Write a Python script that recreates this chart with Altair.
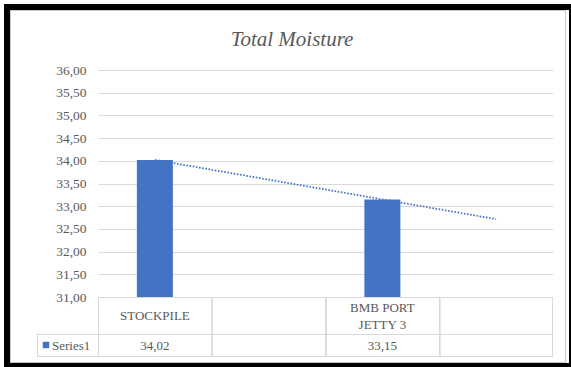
import altair as alt
import numpy as np
import pandas as pd

# ---- data ----
categories = ["STOCKPILE", "", "BMB PORT\nJETTY 3", ""]
values = [34.02, None, 33.15, None]
series_name = "Series1"
title_text = "Total Moisture"
y_ticks = [31.0, 31.5, 32.0, 32.5, 33.0, 33.5, 34.0, 34.5, 35.0, 35.5, 36.0]

BLUE = "#4472C4"
TXT = "#595959"
GRID = "#d9d9d9"
FONT = "Liberation Serif"

slots = list(range(len(categories)))
df = pd.DataFrame({
    "slot": slots,
    "category": categories,
    "value": values,
    "label": [("" if v is None else f"{v:.2f}".replace(".", ",")) for v in values],
})

# linear trendline (Excel style: x = category index 1..n)
xi = np.array([i + 1 for i, v in enumerate(values) if v is not None], dtype=float)
yi = np.array([v for v in values if v is not None], dtype=float)
slope, intercept = np.polyfit(xi, yi, 1)
trend_df = pd.DataFrame({
    "slot": slots,
    "trend": [slope * (s + 1) + intercept for s in slots],
})

W, H = 455, 227
LH = 17

xscale = alt.Scale(domain=slots, paddingInner=0, paddingOuter=0)
yscale = alt.Scale(domain=[31, 36], nice=False, zero=False)
xenc = alt.X("slot:O", scale=xscale, axis=None)
yaxis = alt.Axis(values=y_ticks, labelExpr="replace(format(datum.value, '.2f'), '.', ',')",
                 domain=False, ticks=False, grid=True, gridColor=GRID, gridWidth=1,
                 labelOverlap=False, labelFont=FONT, labelFontSize=13.5,
                 labelColor=TXT, labelPadding=12, title=None)

bars = alt.Chart(df).transform_filter("datum.value != null").mark_bar(
    size=36, color=BLUE
).encode(
    x=xenc,
    y=alt.Y("value:Q", scale=yscale, title=None, axis=yaxis),
    y2=alt.datum(31),
)

trend = alt.Chart(trend_df).mark_line(
    color=BLUE, strokeWidth=1.75, strokeDash=[1.6, 1.6], strokeCap="butt"
).encode(x=xenc, y=alt.Y("trend:Q", scale=yscale, title=None, axis=yaxis))

# ---- data table below the plot ----
def hrule(y, x1, x2, color=GRID, w=1):
    return alt.Chart(df).mark_rule(color=color, strokeWidth=w).encode(
        x=alt.value(x1), x2=alt.value(x2), y=alt.value(y))

def vrule(x, y1, y2, color=GRID, w=1):
    return alt.Chart(df).mark_rule(color=color, strokeWidth=w).encode(
        x=alt.value(x), y=alt.value(y1), y2=alt.value(y2))

table_lines = [
    hrule(227.5, 0, W), hrule(264.5, -61, W), hrule(286.5, -61, W),
    vrule(-60.5, 264, 287),
]
for k in range(len(categories) + 1):
    table_lines.append(vrule(0.5 + k * W / len(categories) if k < len(categories) else W - 0.5, 227, 287))

cat_text = alt.Chart(df).transform_calculate(
    off=f"-(length(split(datum.category, '\\n')) - 1) * {LH / 2}"
).mark_text(
    font=FONT, fontSize=13, color=TXT, lineBreak="\n", lineHeight=LH, baseline="middle"
).encode(x=xenc, y=alt.value(246), yOffset=alt.YOffset("off:Q", scale=None), text="category:N")

val_text = alt.Chart(df).mark_text(
    font=FONT, fontSize=13, color=TXT, baseline="middle"
).encode(x=xenc, y=alt.value(276), text="label:N")

legend_sq = alt.Chart(pd.DataFrame({"s": [series_name]})).mark_square(
    size=42, color=BLUE, opacity=1
).encode(x=alt.value(-52), y=alt.value(275))
legend_txt = alt.Chart(pd.DataFrame({"s": [series_name]})).mark_text(
    font=FONT, fontSize=13, color=TXT, align="left", baseline="middle"
).encode(x=alt.value(-46), y=alt.value(276), text="s:N")

title = alt.Chart(pd.DataFrame({"t": [title_text]})).mark_text(
    font=FONT, fontSize=21, fontStyle="italic", color=TXT, align="center", baseline="alphabetic"
).encode(x=alt.value(194), y=alt.value(-24), text="t:N")

# ---- outer frame ----
frame = [
    vrule(-87.5, -60, 293, color="#c8c8c8"), hrule(-59.5, -88, 468, color="#c8c8c8"),
    vrule(467.5, -60, 293, color="#c8c8c8"), hrule(292.5, -88, 468, color="#c8c8c8"),
    vrule(-91, -66, 297, color="black", w=6), hrule(-63, -94, 473, color="black", w=6),
    vrule(472, -66, 297, color="black", w=2), hrule(295, -94, 473, color="black", w=4),
]

chart = alt.layer(
    *table_lines, bars, trend, cat_text, val_text, legend_sq, legend_txt, title, *frame
).properties(
    width=W, height=H, autosize="none",
    padding={"left": 98, "top": 70, "right": 18, "bottom": 70},
    background="white",
).configure_view(stroke=None)

chart.save("out.html", embed_options={"renderer": "svg", "actions": False})
